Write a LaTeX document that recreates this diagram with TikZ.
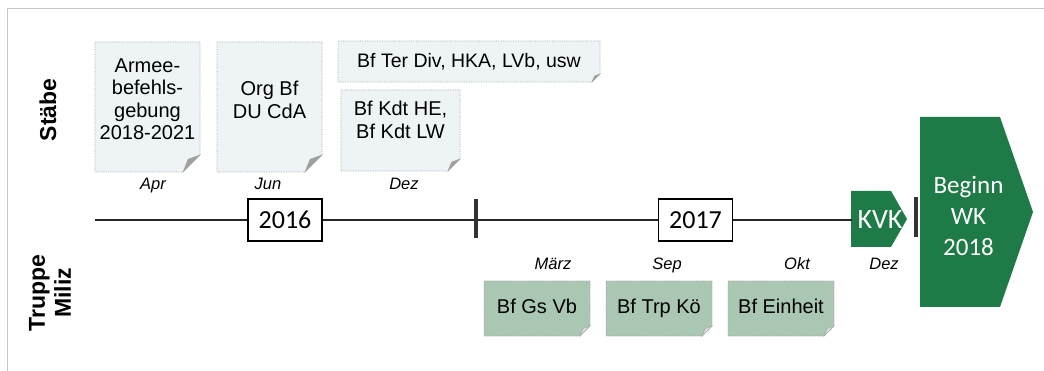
\documentclass[tikz,border=0pt]{standalone}
\usepackage{fontspec}
\setmainfont{Liberation Sans}
\newfontfamily\calibrifont{Carlito}
\usetikzlibrary{positioning}

\definecolor{cardblue}{RGB}{238,244,246}
\definecolor{cardgreen}{RGB}{170,199,180}
\definecolor{foldblue}{RGB}{160,160,160}
\definecolor{foldgreen}{RGB}{214,226,218}
\definecolor{wkgreen}{RGB}{30,122,70}

\tikzset{
	frame/.style={gray!45, line width=0.8pt},
	cardline/.style={gray!70, densely dotted, line width=0.7pt},
	foldline/.style={gray!70, line width=0.5pt},
	card/.style={align=center, inner sep=0pt, font=\fontsize{20}{22.5}\selectfont},
	month/.style={anchor=base, inner sep=0pt, font=\fontsize{16.5}{16.5}\selectfont\itshape},
	rowlabel/.style={rotate=90, align=center, font=\bfseries\fontsize{23}{26}\selectfont},
	year/.style={draw, line width=1.2pt, fill=white, inner sep=0pt, minimum width=74pt, minimum height=42pt, font=\calibrifont\fontsize{26}{26}\selectfont},
	wktext/.style={text=white, inner sep=0pt, align=center, font=\calibrifont},
	timeline/.style={line width=1.2pt, black!85},
	tickline/.style={line width=3.5pt, black!80}
}

\begin{document}
\begin{tikzpicture}[x=1pt, y=-1pt]
	\useasboundingbox (0, 0) rectangle (1044, 371);
	\draw [frame] (7, 371) -- (7, 8) -- (1044, 8);

	% row labels
	\node [rowlabel] (staebe) at (48, 110) {Stäbe};
	\node [rowlabel] (truppe) at (50, 293) {Truppe\\Miliz};

	% note cards with folded corner
	\foreach \xa/\ya/\xb/\yb/\f/\c/\fc in {95/42/200/172/17/cardblue/foldblue, 217/42/322/172/17/cardblue/foldblue, 338/41/600/82/8/cardblue/foldblue, 341/90/460/171/12/cardblue/foldblue, 484/281/590/336/10/cardgreen/foldgreen, 606/281/712/336/10/cardgreen/foldgreen, 728/281/834/336/10/cardgreen/foldgreen} {
		\filldraw [cardline, fill=\c] (\xa, \ya) -- (\xb, \ya) -- (\xb, \yb - \f) -- (\xb - \f, \yb) -- (\xa, \yb) -- cycle;
		\filldraw [foldline, fill=\fc] (\xb, \yb - \f) -- (\xb - \f, \yb) -- (\xb - 0.7*\f, \yb - 0.75*\f) -- cycle;
	}

	\node [card] (armee) at (147.5, 99) {Armee-\\befehls-\\gebung\\2018-2021};
	\node [card] (orgbf) at (269.5, 100) {Org Bf\\DU CdA};
	\node [card, font=\fontsize{19.5}{22}\selectfont] (terdiv) at (469, 62) {Bf Ter Div, HKA, LVb, usw};
	\node [card] (kdt) at (400.5, 120) {Bf Kdt HE,\\Bf Kdt LW};
	\node [card, anchor=base] (gsvb) at (537, 313) {Bf Gs Vb};
	\node [card, anchor=base] (trpkoe) at (659, 313) {Bf Trp Kö};
	\node [card, anchor=base] (einheit) at (781, 313) {Bf Einheit};

	% months
	\node [month] (apr) at (153, 190) {Apr};
	\node [month] (jun) at (268, 190) {Jun};
	\node [month] (dez) at (404, 190) {Dez};
	\node [month] (maerz) at (553, 270) {März};
	\node [month] (sep) at (667, 270) {Sep};
	\node [month] (okt) at (797, 270) {Okt};
	\node [month] (dezkvk) at (884, 270) {Dez};

	% green arrow boxes
	\fill [wkgreen] (851, 191) -- (891, 191) -- (907, 219) -- (891, 247) -- (851, 247) -- cycle;
	\fill [wkgreen] (920, 117) -- (1000, 117) -- (1033, 212) -- (1000, 307) -- (920, 307) -- cycle;
	\node [wktext, minimum width=56pt, minimum height=56pt, font=\calibrifont\fontsize{28}{28}\selectfont] (kvk) at (880, 220) {KVK};
	\node [wktext, font=\calibrifont\fontsize{25}{31}\selectfont] (beginn) at (968.5, 215.5) {Beginn\\WK\\2018};

	% time line
	\coordinate (start) at (95, 220);
	\node [year] (y2016) at (285, 220) {2016};
	\coordinate (cut) at (476, 220);
	\node [year] (y2017) at (695.5, 220) {2017};
	\draw [timeline] (start) -- (y2016) -- (cut) -- (y2017) -- (kvk);
	\draw [tickline] ([yshift=21pt]cut) -- ([yshift=-18pt]cut);
	\coordinate (wkbar) at (916, 217);
	\draw [tickline] ([yshift=20pt]wkbar) -- ([yshift=-20pt]wkbar);
\end{tikzpicture}
\end{document}
